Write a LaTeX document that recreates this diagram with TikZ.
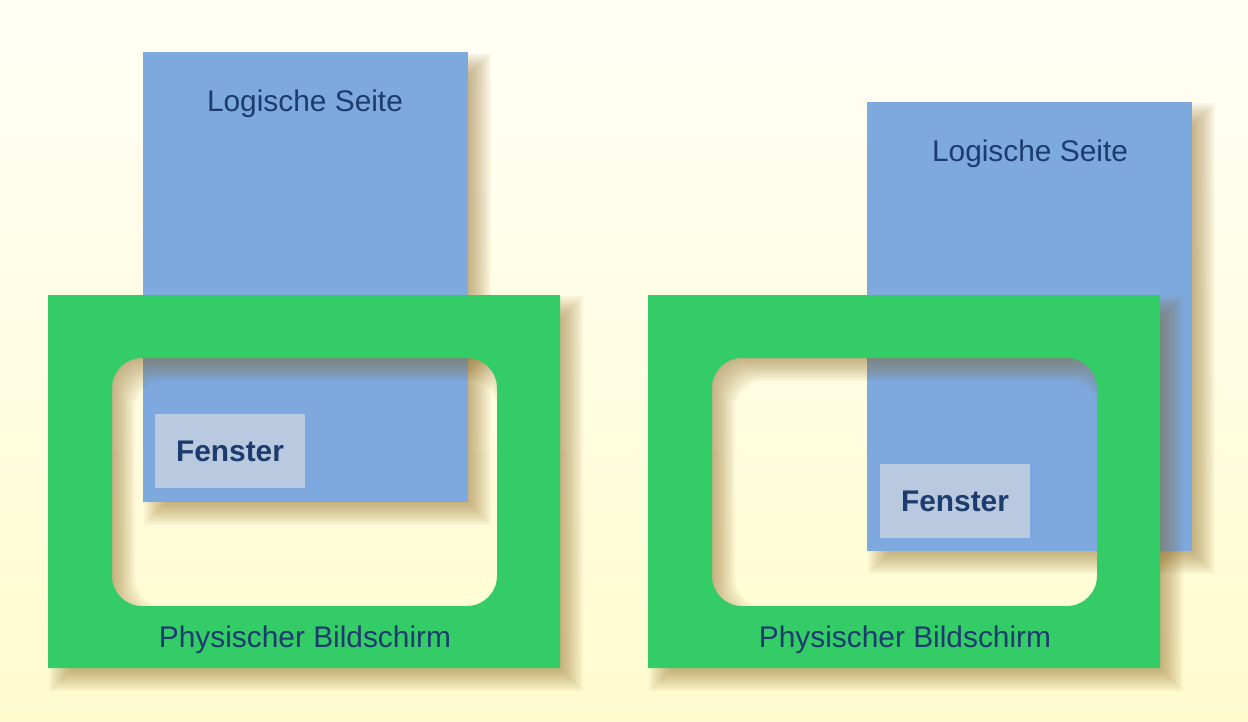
\documentclass[tikz,border=0pt]{standalone}
\usepackage{fontspec}
\setmainfont{Liberation Sans}
\usepackage{tikz}
\usetikzlibrary{positioning}
\definecolor{PageBlue}{HTML}{7DA9DF}
\definecolor{FrameGreen}{HTML}{33CC66}
\definecolor{WinGrey}{HTML}{B9C9E0}
\definecolor{LabelNavy}{HTML}{1D3C6E}
\definecolor{ShadowTan}{HTML}{8C6420}
\definecolor{BgTop}{HTML}{FFFFF6}
\definecolor{BgBottom}{HTML}{FFFBCF}

% soft shadow of a logical page, corners in pixels
\newcommand{\pageshadow}[4]{%
  \foreach \g in {-11,-9,...,11}
    \fill[ShadowTan,fill opacity=0.05]
      ({#1+12-(\g)},{#2+12-(\g)}) rectangle ({#3+12+\g},{#4+12+\g});}
% soft shadow of a screen frame, origin in pixels
\newcommand{\screenshadow}[2]{%
  \foreach \g in {-11,-9,...,11}
    \fill[ShadowTan,fill opacity=0.05,even odd rule]
      ({#1+12-(\g)},{#2+12-(\g)}) rectangle ({#1+524+\g},{#2+385+\g})
      {[rounded corners=0.6cm] ({#1+76+\g},{#2+75+\g}) rectangle ({#1+461-(\g)},{#2+323-(\g)})};}

\begin{document}
\begin{tikzpicture}[
  x=0.02cm,y=-0.02cm,
  pagefill/.style={fill=PageBlue},
  screenfill/.style={fill=FrameGreen,even odd rule},
  pagetext/.style={font=\fontsize{17}{20}\selectfont,text=LabelNavy},
  screentext/.style={font=\fontsize{17}{20}\selectfont,text=LabelNavy},
  winbox/.style={
    fill=WinGrey,inner sep=0pt,
    minimum width=3cm,minimum height=1.48cm,
    font=\bfseries\fontsize{17}{20}\selectfont,
    text=LabelNavy
  }
]
  \useasboundingbox (0,0) rectangle (1248,721);
  \shade[top color=BgTop,bottom color=BgBottom] (0,0) rectangle (1248,721);

  % left: window inside the screen
  \pageshadow{143}{52}{468}{502}
  \fill[pagefill] (143,52) rectangle (468,502);
  \node[pagetext] (title1) at (305,104) {Logische Seite};
  \node[winbox] (win1) at (230,451) {Fenster};
  \screenshadow{48}{295}
  \fill[screenfill] (48,295) rectangle (560,668)
    {[rounded corners=0.6cm] (112,358) rectangle (497,606)};
  \node[screentext] (caption1) at (305,640) {Physischer Bildschirm};

  % right: page shifted
  \pageshadow{867}{102}{1192}{551}
  \fill[pagefill] (867,102) rectangle (1192,551);
  \node[pagetext] (title2) at (1030,154) {Logische Seite};
  \node[winbox] (win2) at (955,501) {Fenster};
  \screenshadow{648}{295}
  \fill[screenfill] (648,295) rectangle (1160,668)
    {[rounded corners=0.6cm] (712,358) rectangle (1097,606)};
  \node[screentext] (caption2) at (905,640) {Physischer Bildschirm};
\end{tikzpicture}
\end{document}
